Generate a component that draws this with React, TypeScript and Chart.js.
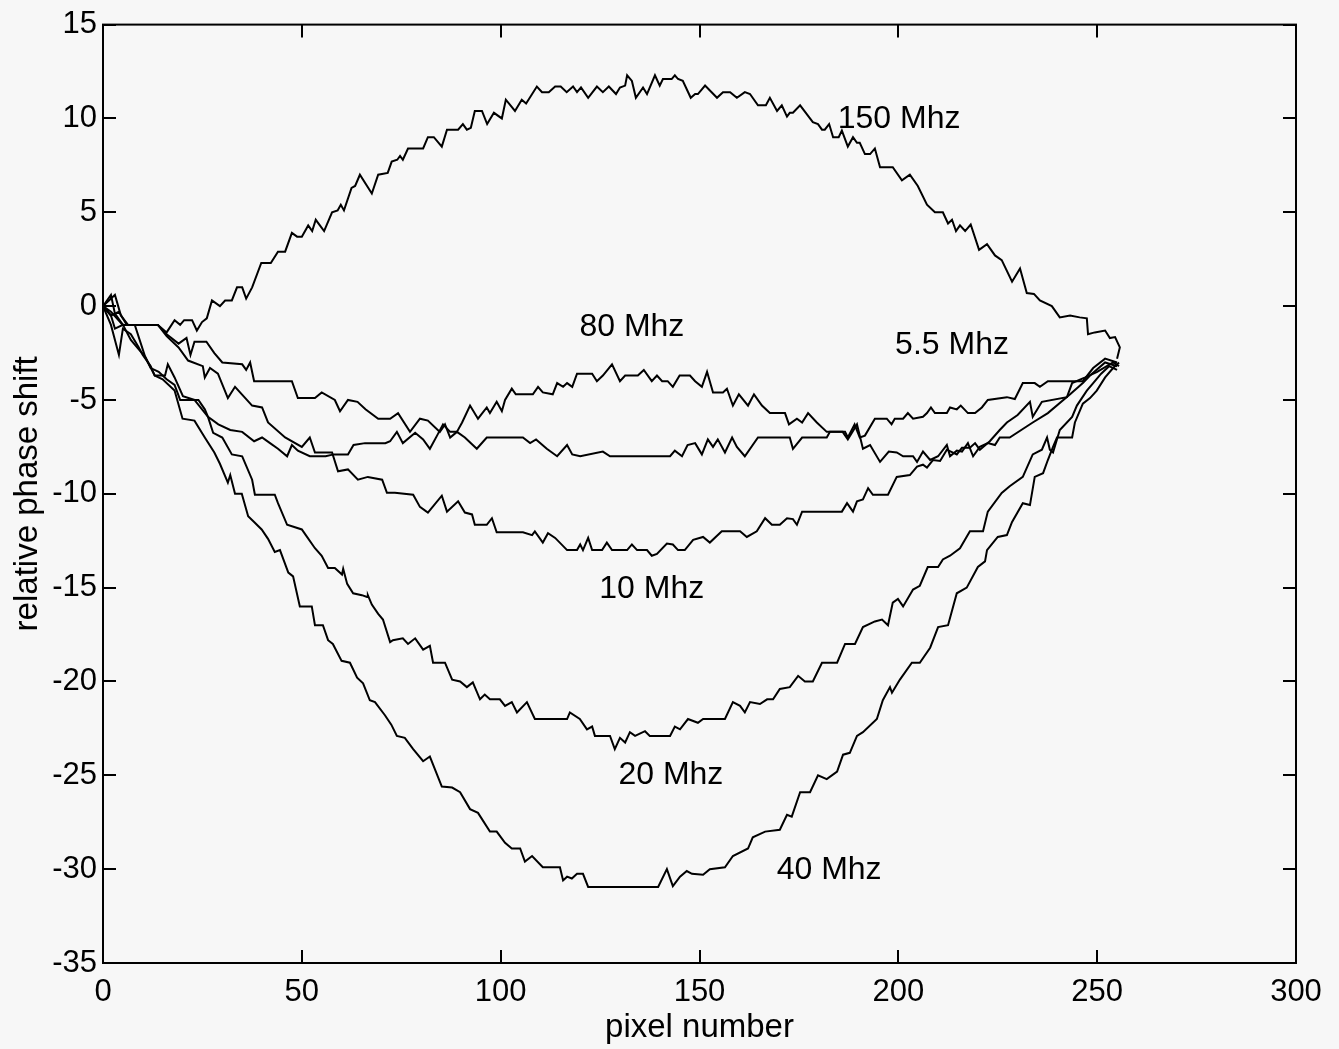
import React, { useEffect, useRef } from "react";
import { Chart, registerables } from "chart.js";

Chart.register(...registerables);

// ---- data (pixel number, relative phase shift) ----
const xTickValues = [0, 50, 100, 150, 200, 250, 300];
const yTickValues = [-35, -30, -25, -20, -15, -10, -5, 0, 5, 10, 15];

const mhz150: number[][] = [
  [0, 0], [1.5, 0.3], [3, 0.6], [4.5, -0.5], [6.3, -1.0], [13.8, -1.0], [16, -1.4], [18, -0.75], [19.4, -1.0],
  [20.4, -0.75], [22.4, -0.75], [23.6, -1.3], [24.9, -0.85], [26.1, -0.65], [27.4, 0.3], [29.4, 0], [30.7, 0.3],
  [32.4, 0.3], [33.7, 1.0], [35, 1.0], [36, 0.4], [37.5, 1.0], [39.8, 2.3], [42.2, 2.3], [44, 2.9], [45.8, 2.9],
  [47.5, 3.9], [48.8, 3.7], [50, 3.7], [51.6, 4.3], [52.6, 4.0], [53.5, 4.6], [55.6, 4.0], [57.6, 5.0], [59, 5.1],
  [59.8, 5.4], [60.6, 5.1], [62.5, 6.3], [63.4, 6.4], [64.6, 7.0], [67.6, 6.0], [69.2, 7.0], [71.6, 7.1],
  [72.6, 7.7], [74, 7.8], [74.7, 8.0], [75.4, 7.8], [76.7, 8.4], [80.5, 8.4], [81.7, 9.0], [83.2, 9.0],
  [85.2, 8.5], [86.5, 9.4], [89.3, 9.4], [90.5, 9.7], [91.5, 9.4], [92.5, 9.5], [93.5, 10.4], [95.3, 10.4],
  [96.6, 9.7], [98.3, 10.3], [100.3, 10.0], [101.3, 11.0], [103.6, 10.4], [105.3, 11.0], [106.4, 10.8],
  [109.1, 11.7], [110.4, 11.4], [112.1, 11.4], [113.7, 11.7], [115.1, 11.7], [116.6, 11.4], [118.2, 11.7],
  [119.2, 11.4], [120.2, 11.65], [122, 11.1], [124.2, 11.7], [125.7, 11.4], [127.2, 11.7], [129, 11.3],
  [130, 11.65], [131.3, 11.75], [131.8, 12.3], [133, 12.0], [134, 11.1], [135.8, 11.65], [136.8, 11.3],
  [138.8, 12.3], [140, 11.75], [140.8, 12.1], [143, 12.1], [143.8, 12.3], [144.6, 12.1], [145.8, 12.0],
  [147.8, 11.1], [148.9, 11.3], [149.6, 11.3], [151.4, 11.75], [154.4, 11.1], [155.9, 11.4], [157.7, 11.4],
  [159.4, 11.1], [161.4, 11.4], [162.7, 11.3], [164.7, 10.7], [166.7, 10.7], [167.7, 11.1], [169.5, 10.4],
  [170.7, 10.7], [172, 10.1], [172.7, 10.3], [173.5, 10.3], [175.3, 10.7], [178.5, 9.8], [179.8, 9.7],
  [180.8, 9.4], [181.5, 9.4], [182.6, 9.7], [183.6, 9.0], [185, 9.0], [185.8, 9.35], [187.3, 8.5], [188.6, 9.0],
  [189.6, 8.7], [190.3, 8.7], [191.6, 8.1], [192.9, 8.1], [194.1, 8.4], [195.4, 7.4], [197, 7.4], [198.6, 7.4],
  [200.9, 6.7], [202.9, 7.0], [204.9, 6.4], [207.2, 5.4], [209.2, 5.0], [211.2, 5.0], [212.5, 4.4], [213.5, 4.6],
  [214.5, 4.0], [215.5, 4.3], [216.8, 4.0], [218.2, 4.35], [220.3, 3.0], [222.3, 3.3], [224.3, 2.7], [226, 2.45],
  [228.6, 1.3], [230.6, 2.0], [232.3, 0.7], [234.1, 0.65], [235.6, 0.3], [238.6, 0], [240.6, -0.6], [243.2, -0.5],
  [245.6, -0.6], [247.4, -0.65], [247.7, -1.5], [249.4, -1.4], [252, -1.3], [253.2, -1.7], [254.5, -1.65],
  [255.7, -2.2], [255, -2.8],
];

const mhz80: number[][] = [
  [0, 0], [2, 0.6], [3, -0.4], [5, -1.0], [8, -1.0], [10.6, -2.7], [13, -3.7], [15.6, -3.7], [16.3, -3.1],
  [18, -3.8], [20.1, -4.8], [23, -5.0], [26.4, -5.9], [29, -6.3], [32, -6.6], [35, -6.7], [38, -7.2], [40, -7.0],
  [42, -7.3], [44, -7.6], [46.3, -8.0], [47.5, -7.4], [49, -7.7], [52, -8.0], [56, -8.0], [58, -7.9], [61.6, -7.9],
  [63, -7.4], [65.9, -7.3], [71, -7.3], [72.2, -7.2], [73.9, -6.7], [75.4, -7.3], [78.5, -6.75], [80.5, -7.1],
  [82.2, -7.6], [84, -6.9], [85.5, -6.3], [87.3, -6.7], [89, -6.7], [90.3, -6.2], [92.3, -5.3], [94.3, -6.0],
  [96.5, -5.4], [97.3, -5.7], [99, -5.1], [100.3, -5.6], [101.1, -5.0], [102.8, -4.4], [103.8, -4.7],
  [108.1, -4.7], [109.4, -4.3], [110.6, -4.6], [113.1, -4.7], [114.2, -4.1], [115.7, -4.3], [116.7, -4.1],
  [118, -4.3], [119.2, -3.6], [123, -3.6], [124.2, -4.0], [125.7, -3.7], [128, -3.1], [130, -4.0], [131.3, -3.7],
  [134.5, -3.7], [136, -3.4], [138, -4.0], [139.3, -3.7], [140.6, -4.0], [142, -4.0], [143.3, -4.3], [145, -3.7],
  [147.6, -3.7], [148.9, -4.0], [150.6, -4.3], [151.9, -3.5], [153.4, -4.6], [155.9, -4.6], [156.9, -4.4],
  [158.4, -5.3], [159.9, -4.7], [162.2, -5.3], [163.7, -4.7], [165.7, -5.3], [167.7, -5.7], [171.5, -5.7],
  [172.5, -6.3], [174.5, -6.0], [175.8, -6.2], [177.3, -5.7], [179.5, -6.2], [182, -6.7], [186, -6.7],
  [187.3, -7.1], [189.6, -6.3], [191.1, -7.6], [192.9, -7.4], [195.4, -8.3], [197.6, -7.75], [199.6, -7.8],
  [201.2, -8.0], [203.7, -8.0], [204.7, -8.3], [206.2, -7.75], [208, -8.2], [210, -8.0], [212.2, -7.4], [213, -8.0],
  [214.7, -7.7], [216, -7.75], [217.5, -7.3], [218.8, -8.0], [220.5, -7.5], [222.5, -7.3], [224.3, -7.4],
  [225.5, -7.0], [228, -7.0], [233.8, -6.2], [237.6, -5.7], [243.2, -4.7], [246.4, -4.1], [248.2, -3.7],
  [252, -3.0], [255, -3.2],
];

const mhz5p5: number[][] = [
  [0, 0], [2, -0.5], [4, -0.3], [6, -1.0], [13.8, -1.0], [16, -1.5], [19, -2.0], [21, -1.7], [22, -2.6], [23, -1.9],
  [26, -1.9], [28, -2.5], [30, -3.0], [35, -3.1], [36, -3.4], [37, -3.0], [38, -4.0], [47.5, -4.0], [49, -4.9],
  [53.3, -4.9], [55, -4.6], [58.3, -5.0], [59.6, -5.6], [61.6, -5.0], [64, -5.1], [66, -5.5], [69.2, -6.0],
  [72.2, -6.0], [74.2, -5.7], [77.2, -6.7], [79.7, -6.0], [81.7, -6.1], [84.7, -6.7], [86, -6.3], [87.3, -7.0],
  [89, -6.7], [91, -7.0], [94, -7.6], [96.5, -7.0], [105.6, -7.0], [107.4, -7.3], [108.9, -7.1], [111.6, -7.6],
  [114.2, -8.0], [116.7, -7.4], [118, -7.9], [120, -8.0], [125.7, -7.75], [127.5, -8.0], [142.6, -8.0],
  [143.8, -7.7], [145.6, -8.0], [147, -7.4], [148.9, -7.3], [150.6, -7.9], [152.1, -7.1], [153.4, -7.5],
  [154.6, -7.1], [156.4, -7.8], [158.2, -7.0], [159.4, -7.5], [161.4, -8.0], [164.7, -7.0], [172.7, -7.0],
  [173.5, -7.6], [175.8, -7.0], [182, -7.0], [182.8, -6.7], [186.6, -6.7], [187.3, -7.0], [189, -6.3],
  [190.3, -7.0], [191.6, -6.9], [194.1, -6.0], [197.1, -6.0], [198.3, -6.3], [199.1, -6.0], [201.2, -6.0],
  [202.4, -5.7], [203.7, -6.0], [206.2, -5.9], [207.2, -5.7], [208.2, -5.4], [209.2, -5.7], [212.2, -5.7],
  [213, -5.4], [214.7, -5.5], [215.7, -5.3], [217.5, -5.7], [219.3, -5.7], [221, -5.4], [222.5, -5.0],
  [227.3, -4.85], [229.3, -4.95], [231.3, -4.1], [234.3, -4.1], [235.6, -4.3], [237.6, -4.0], [246.4, -4.0],
  [249, -3.3], [252, -2.8], [255, -3.0],
];

const mhz10: number[][] = [
  [0, 0], [2, -0.3], [5, -1.0], [13.8, -1.0], [16, -1.6], [19, -2.2], [21.4, -2.9], [25.1, -3.2], [25.6, -3.8],
  [26.9, -3.3], [28.9, -3.6], [31.4, -4.9], [33.2, -4.3], [37.5, -5.3], [40, -5.4], [41.5, -6.2], [45.8, -7.0],
  [50, -7.5], [52, -7.0], [53.3, -7.8], [57.6, -7.8], [59.1, -8.8], [61.6, -8.7], [64.1, -9.25], [66.6, -9.1],
  [70.2, -9.25], [71.4, -9.95], [73.4, -9.95], [78, -10.05], [79.7, -10.7], [81.7, -11.0], [85.2, -10.1],
  [86.5, -10.95], [89.3, -10.4], [91, -11.0], [92.8, -11.1], [93.5, -11.65], [96.5, -11.65], [97.8, -11.3],
  [99, -12.05], [105.6, -12.05], [107.9, -12.2], [108.6, -12.0], [110.6, -12.6], [111.9, -12.1], [113.7, -12.35],
  [116.7, -13.0], [119.2, -13.0], [120, -12.7], [120.7, -13.0], [122, -12.35], [123, -13.0], [125.5, -13.0],
  [126.7, -12.6], [128, -13.0], [131.8, -13.0], [133, -12.7], [134.3, -13.0], [136.8, -13.0], [138, -13.3],
  [139.3, -13.2], [141.8, -12.65], [143.3, -12.7], [144.6, -13.0], [146.3, -13.0], [148.4, -12.45],
  [150.9, -12.3], [152.6, -12.6], [155.6, -12.0], [160.2, -12.0], [161.9, -12.3], [164.4, -12.0], [166.5, -11.3],
  [168.2, -11.65], [170.2, -11.65], [172, -11.3], [173.5, -11.35], [174.5, -11.65], [175.8, -10.95],
  [185.8, -10.95], [187.1, -10.5], [188.6, -10.95], [189.6, -10.4], [191.1, -10.3], [192.4, -9.7],
  [193.6, -10.05], [197.4, -10.05], [199.6, -9.1], [202.9, -9.0], [204.7, -8.55], [206.2, -8.45], [207.2, -8.6],
  [208.7, -8.2], [210.5, -8.25], [212.2, -7.65], [214.7, -7.9], [216, -7.55], [218, -7.55], [219.3, -7.3],
  [220.5, -7.65], [223, -7.2], [225.5, -6.6], [227.3, -6.2], [230, -5.8], [233.1, -5.1], [233.8, -5.9],
  [236.1, -5.1], [242.4, -4.85], [243.7, -4.1], [247, -3.8], [250, -3.5], [254, -3.0], [255.5, -3.2],
];

const mhz20: number[][] = [
  [0, 0], [2, -0.5], [3, -1.2], [5, -1.0], [7, -1.8], [9, -2.3], [10.6, -2.7], [12, -3.3], [14, -3.5], [16, -3.9],
  [18, -4.2], [19.4, -5.0], [24, -5.0], [25.6, -5.5], [26.4, -5.9], [27.7, -6.75], [30, -7.0], [32.4, -7.9],
  [35, -8.0], [37.5, -9.25], [38.2, -10.05], [43.2, -10.05], [44, -10.5], [46.3, -11.65], [50, -11.9],
  [51, -12.2], [53.3, -12.9], [55, -13.3], [56.6, -13.95], [58.3, -13.95], [60.1, -14.3], [60.4, -14.0],
  [61.4, -14.8], [62.9, -15.3], [65.1, -15.4], [66.4, -15.5], [66.6, -15.4], [67.6, -15.9], [69.2, -16.4],
  [70.4, -16.7], [72.2, -17.9], [72.9, -17.8], [75.4, -17.7], [76.7, -18.0], [78.5, -17.7], [80.5, -18.3],
  [82.2, -18.1], [83, -19.0], [86, -19.0], [87.8, -19.9], [89.8, -20.0], [91.5, -20.3], [93, -20.05],
  [94.8, -20.95], [96, -20.7], [97.3, -20.95], [99.8, -20.95], [101.1, -21.3], [102.8, -21.1], [104.1, -21.65],
  [106.6, -21.1], [108.6, -22.0], [116.7, -22.0], [117.4, -21.65], [119.9, -22.0], [121.7, -22.55], [123, -22.4],
  [123.7, -22.9], [127.5, -22.9], [128.7, -23.6], [130, -23.0], [131.3, -23.25], [132.5, -22.7], [133.8, -22.9],
  [136.3, -22.65], [137.5, -22.9], [142.6, -22.9], [143.8, -22.4], [145.1, -22.55], [147.1, -22.0],
  [149.6, -22.2], [150.9, -22.0], [156.4, -22.0], [158.4, -21.1], [160.2, -21.3], [161.4, -21.65],
  [162.7, -21.1], [165.2, -21.2], [167, -20.95], [168.5, -20.95], [170.2, -20.4], [172.7, -20.3],
  [174.8, -19.7], [176.5, -20.0], [178.5, -20.0], [180.8, -19.0], [184.6, -19.0], [186.6, -18.0], [189.1, -18.0],
  [191.1, -17.1], [194.1, -16.8], [195.9, -16.7], [197.4, -17.0], [198.6, -15.8], [199.9, -15.6], [201.2, -16.0],
  [203.7, -15.1], [205.4, -14.9], [207.4, -13.9], [210, -13.9], [211.2, -13.5], [213, -13.3], [215.5, -12.9],
  [218, -12.0], [221.3, -12.0], [222.5, -10.95], [226, -9.95], [228, -9.6], [231.3, -9.1], [233.8, -7.9],
  [236.1, -7.65], [237.4, -7.0], [238.1, -7.65], [238.9, -7.8], [240.6, -6.6], [243.7, -5.9], [244.9, -5.3],
  [247.4, -4.5], [249, -4.1], [251, -3.6], [253, -3.2], [255, -3.4],
];

const mhz40: number[][] = [
  [0, 0], [2, -1.0], [4, -2.6], [5, -1.2], [7, -1.5], [9, -2.2], [10, -2.6], [12, -3.2], [13, -3.7], [15, -3.9],
  [18, -4.5], [20, -6.0], [23, -6.1], [25.6, -7.0], [28, -7.8], [29.4, -8.4], [31.4, -9.4], [32, -9.0],
  [33.2, -10.0], [34.9, -10.0], [36.5, -11.2], [38, -11.5], [39.9, -11.9], [41.5, -12.4], [43.2, -13.1],
  [44.5, -13.0], [46.6, -14.2], [47.8, -14.4], [49.5, -16.0], [52.5, -16.0], [53.3, -17.0], [55.3, -17.0],
  [56.6, -17.8], [57.8, -18.0], [60, -18.9], [62.1, -19.0], [63.9, -19.8], [65.4, -20.1], [67.1, -21.0],
  [68.4, -21.1], [70.9, -21.8], [72.5, -22.3], [73.9, -22.9], [75.9, -23.0], [78, -23.6], [80.5, -24.25],
  [82.2, -24.0], [85.2, -25.6], [87.8, -25.65], [89.8, -25.9], [92.3, -26.8], [94.3, -27.0], [97.3, -28.0],
  [99, -28.0], [101.1, -28.6], [102.8, -28.9], [104.9, -28.9], [106.1, -29.6], [107.9, -29.3], [110.6, -29.9],
  [114.9, -29.9], [115.7, -30.6], [116.7, -30.4], [117.9, -30.5], [119.2, -30.25], [120.7, -30.25],
  [122, -30.95], [139.6, -30.95], [141.8, -30.0], [143.3, -30.9], [145.1, -30.4], [146.8, -30.1],
  [148.1, -30.25], [150.9, -30.3], [152.6, -30.0], [156.4, -29.9], [158.4, -29.3], [162.2, -28.9],
  [163.4, -28.3], [166.5, -28.0], [170.2, -27.9], [172, -27.1], [173.2, -27.2], [175.3, -25.9], [177.8, -25.9],
  [179.8, -25.0], [182, -25.2], [184.6, -24.8], [186.1, -23.9], [187.8, -23.8], [189.6, -22.9], [191.1, -22.7],
  [194.6, -22.0], [196.1, -21.0], [197.9, -20.3], [198.4, -20.6], [200.4, -19.9], [203.4, -19.0], [205.4, -19.0],
  [208, -18.2], [210, -17.1], [212.5, -17.0], [214.7, -15.3], [217.2, -15.0], [220, -13.9], [221.8, -13.6],
  [222.3, -13.0], [225, -12.3], [227.3, -12.2], [228.6, -11.5], [231.3, -10.5], [233.1, -10.6], [234.3, -9.1],
  [236.4, -8.9], [237.6, -8.2], [238.9, -7.5], [239.9, -7.0], [243.7, -7.0], [244.4, -6.2], [246.4, -5.2],
  [248.2, -4.9], [249.9, -4.5], [252, -3.8], [254, -3.3], [255.5, -3.0],
];

const seriesNames = ["150 Mhz", "80 Mhz", "5.5 Mhz", "10 Mhz", "20 Mhz", "40 Mhz"];
const seriesData = [mhz150, mhz80, mhz5p5, mhz10, mhz20, mhz40];

// curve label anchor points (data coordinates, label centre)
const labelX = [200.2, 133, 213.5, 138, 142.8, 182.6];
const labelY = [9.95, -1.1, -2.1, -15.1, -25.0, -30.05];

const FONT = '"Liberation Sans", Arial, Helvetica, sans-serif';

const matlabFrame = {
  id: "matlabFrame",
  afterDatasetsDraw(chart: any) {
    const { ctx, chartArea: a, scales } = chart;
    const xs = scales.x;
    const ys = scales.y;
    ctx.save();
    ctx.strokeStyle = "#000";
    ctx.lineWidth = 2;
    ctx.strokeRect(a.left, a.top, a.right - a.left, a.bottom - a.top);
    const L = 13;
    ctx.beginPath();
    for (const v of xTickValues) {
      const p = Math.round(xs.getPixelForValue(v));
      ctx.moveTo(p, a.bottom);
      ctx.lineTo(p, a.bottom - L);
      ctx.moveTo(p, a.top);
      ctx.lineTo(p, a.top + L);
    }
    for (const v of yTickValues) {
      const p = Math.round(ys.getPixelForValue(v));
      ctx.moveTo(a.left, p);
      ctx.lineTo(a.left + L, p);
      ctx.moveTo(a.right, p);
      ctx.lineTo(a.right - L, p);
    }
    ctx.stroke();
    ctx.fillStyle = "#000";
    ctx.font = `32px ${FONT}`;
    ctx.textAlign = "center";
    ctx.textBaseline = "middle";
    seriesNames.forEach((name, i) => {
      ctx.fillText(name, xs.getPixelForValue(labelX[i]), ys.getPixelForValue(labelY[i]));
    });
    ctx.restore();
  },
};

export default function App() {
  const canvasRef = useRef<HTMLCanvasElement | null>(null);

  useEffect(() => {
    const canvas = canvasRef.current;
    if (!canvas) return;
    const chart = new Chart(canvas, {
      type: "scatter",
      data: {
        datasets: seriesData.map((d, i) => ({
          label: seriesNames[i],
          data: d.map(([x, y]) => ({ x, y })),
          showLine: true,
          borderColor: "#000",
          backgroundColor: "#000",
          borderWidth: 2,
          pointRadius: 0,
          tension: 0,
        })),
      },
      options: {
        animation: false,
        responsive: false,
        maintainAspectRatio: false,
        layout: { padding: { left: 0, right: 43, top: 24, bottom: 0 } },
        plugins: { legend: { display: false }, tooltip: { enabled: false } },
        scales: {
          x: {
            type: "linear",
            min: 0,
            max: 300,
            afterBuildTicks: (s: any) => {
              s.ticks = xTickValues.map((v) => ({ value: v }));
            },
            afterFit: (s: any) => {
              s.height = 86;
            },
            grid: { display: false, drawTicks: false },
            border: { display: false },
            ticks: { color: "#000", font: { family: FONT, size: 31 }, padding: 11, maxRotation: 0 },
            title: {
              display: true,
              text: "pixel number",
              color: "#000",
              font: { family: FONT, size: 33 },
              padding: { top: 0, bottom: 1 },
            },
          },
          y: {
            type: "linear",
            min: -35,
            max: 15,
            afterBuildTicks: (s: any) => {
              s.ticks = yTickValues.map((v) => ({ value: v }));
            },
            afterFit: (s: any) => {
              s.width = 103;
            },
            grid: { display: false, drawTicks: false },
            border: { display: false },
            ticks: { color: "#000", font: { family: FONT, size: 31 }, padding: 6 },
            title: {
              display: true,
              text: "relative phase shift",
              color: "#000",
              font: { family: FONT, size: 33 },
              padding: { top: 8, bottom: 0 },
            },
          },
        },
      },
      plugins: [matlabFrame],
    });
    return () => chart.destroy();
  }, []);

  return (
    <div
      style={{
        position: "absolute",
        left: 0,
        top: 0,
        width: 1339,
        height: 1049,
        background: "#f7f7f7",
      }}
    >
      <canvas ref={canvasRef} width={1339} height={1049} style={{ width: 1339, height: 1049, display: "block" }} />
    </div>
  );
}
